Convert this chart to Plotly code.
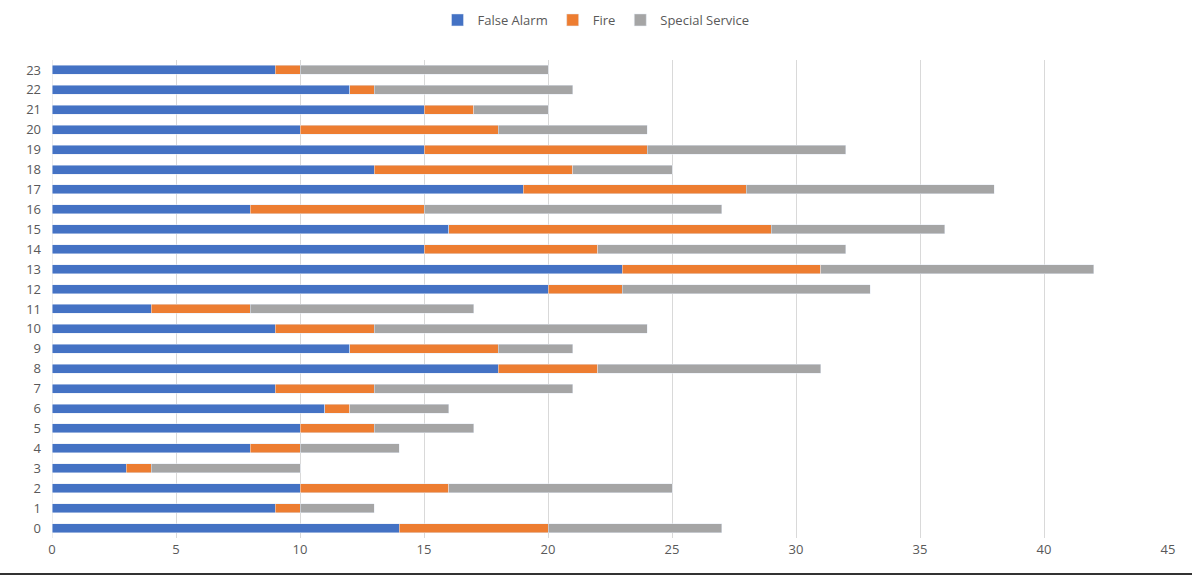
import plotly.graph_objects as go

hours = [str(h) for h in range(24)]
false_alarm = [14, 9, 10, 3, 8, 10, 11, 9, 18, 12, 9, 4, 20, 23, 15, 16, 8, 19, 13, 15, 10, 15, 12, 9]
fire = [6, 1, 6, 1, 2, 3, 1, 4, 4, 6, 4, 4, 3, 8, 7, 13, 7, 9, 8, 9, 8, 2, 1, 1]
special = [7, 3, 9, 6, 4, 4, 4, 8, 9, 3, 11, 9, 10, 11, 10, 7, 12, 10, 4, 8, 6, 3, 8, 10]

fig = go.Figure()
fig.add_bar(y=hours, x=false_alarm, orientation="h", name="False Alarm", marker_color="#4472C4")
fig.add_bar(y=hours, x=fire, orientation="h", name="Fire", marker_color="#ED7D31")
fig.add_bar(y=hours, x=special, orientation="h", name="Special Service", marker_color="#A5A5A5")

W, H = 1192, 577
L, R, T, B = 52, 24, 60, 39
font = "Open Sans, sans-serif"
fig.update_layout(
    barmode="stack",
    bargap=0.55,
    width=W, height=H,
    margin=dict(l=L, r=R, t=T, b=B, autoexpand=False),
    plot_bgcolor="white", paper_bgcolor="white",
    font=dict(family=font, size=13, color="#595959"),
    legend=dict(orientation="h", x=0.5, xanchor="center", xref="container",
                y=1 - 20/H, yanchor="middle", yref="container",
                font=dict(size=13, color="#595959"), traceorder="normal",
                itemwidth=30, tracegroupgap=0),
    showlegend=True,
)
fig.update_xaxes(range=[0, 45], dtick=5, showgrid=True, gridcolor="#D9D9D9", gridwidth=1,
                 zeroline=False, showline=False, ticks="", ticklabelstandoff=2,
                 tickfont=dict(size=13, color="#595959"))
fig.update_yaxes(type="category", categoryorder="array", categoryarray=hours,
                 showgrid=False, zeroline=False, showline=False, ticks="",
                 ticklabelstandoff=10, tickfont=dict(size=13, color="#595959"))
pw = W - L - R
ph = H - T - B
fig.add_shape(type="line", xref="x", yref="paper", x0=0, x1=0, y0=0, y1=1,
              line=dict(color="#D9D9D9", width=1), layer="below")
fig.add_shape(type="line", xref="paper", yref="paper", x0=-L/pw, x1=(W - L)/pw,
              y0=-(B - 3)/ph, y1=-(B - 3)/ph, line=dict(color="#333333", width=2))
fig.write_html("out.html", config={"displayModeBar": False},
               post_script="document.body.style.margin='0';document.body.style.overflow='hidden';")
